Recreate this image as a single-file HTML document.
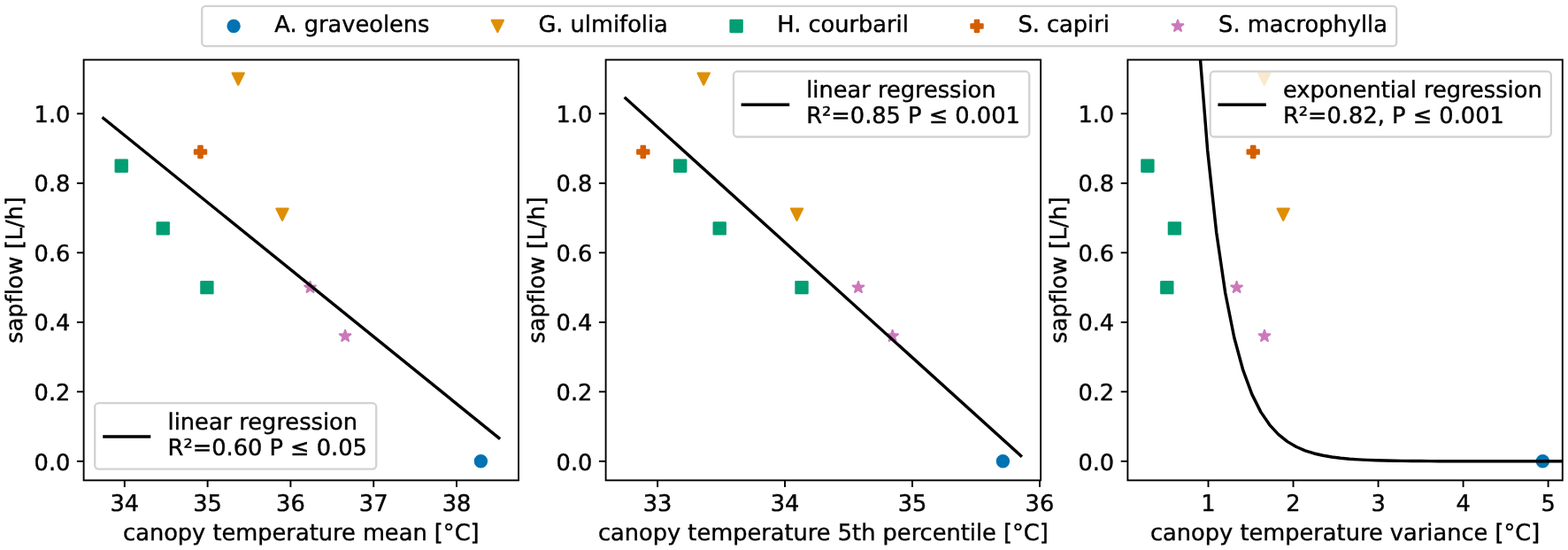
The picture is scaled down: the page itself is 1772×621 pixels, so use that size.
<!DOCTYPE html>
<html lang="en"><head><meta charset="utf-8"><title>sapflow vs canopy temperature</title>
<style>
html,body{margin:0;padding:0;background:#fff;}
body{width:1772px;height:621px;overflow:hidden;}
svg{display:block;}

</style></head><body>
<svg width="1772" height="621" viewBox="0 0 1772 621" font-family='"DejaVu Sans", "Liberation Sans", sans-serif' font-size="25.67" fill="#000">
<style>text{text-rendering:geometricPrecision;font-variant-ligatures:none;font-kerning:normal;font-feature-settings:"liga" 0,"clig" 0;stroke:#000;stroke-width:0.4px;stroke-linejoin:round;}</style>
<rect width="1772" height="621" fill="#fff"/>
<g>
<clipPath id="clip0"><rect x="94.6" y="67.5" width="491.4" height="474.85"/></clipPath>
<g clip-path="url(#clip0)">
<polygon points="130.60,180.60 143.80,180.60 143.80,193.80 130.60,193.80" fill="#029e73" stroke="#029e73" stroke-width="2.2" stroke-linejoin="round"/>
<polygon points="177.60,251.30 190.80,251.30 190.80,264.50 177.60,264.50" fill="#029e73" stroke="#029e73" stroke-width="2.2" stroke-linejoin="round"/>
<polygon points="227.30,318.00 240.50,318.00 240.50,331.20 227.30,331.20" fill="#029e73" stroke="#029e73" stroke-width="2.2" stroke-linejoin="round"/>
<polygon points="269.20,95.70 275.80,82.50 262.60,82.50" fill="#de8f05" stroke="#de8f05" stroke-width="2.2" stroke-linejoin="round"/>
<polygon points="319.00,248.80 325.60,235.60 312.40,235.60" fill="#de8f05" stroke="#de8f05" stroke-width="2.2" stroke-linejoin="round"/>
<polygon points="224.30,164.90 228.70,164.90 228.70,169.30 233.10,169.30 233.10,173.70 228.70,173.70 228.70,178.10 224.30,178.10 224.30,173.70 219.90,173.70 219.90,169.30 224.30,169.30" fill="#d55e00" stroke="#d55e00" stroke-width="2.2" stroke-linejoin="round"/>
<polygon points="350.50,318.00 349.02,322.56 344.22,322.56 348.10,325.38 346.62,329.94 350.50,327.12 354.38,329.94 352.90,325.38 356.78,322.56 351.98,322.56" fill="#cc78bc" stroke="#cc78bc" stroke-width="2.2" stroke-linejoin="round"/>
<polygon points="390.10,372.90 388.62,377.46 383.82,377.46 387.70,380.28 386.22,384.84 390.10,382.02 393.98,384.84 392.50,380.28 396.38,377.46 391.58,377.46" fill="#cc78bc" stroke="#cc78bc" stroke-width="2.2" stroke-linejoin="round"/>
<circle cx="543.40" cy="520.80" r="6.60" fill="#0173b2" stroke="#0173b2" stroke-width="2.2" stroke-linejoin="round"/>
<path d="M116.9,133.5 L563.8,494.5" fill="none" stroke="#000" stroke-width="3.45" stroke-linecap="square" stroke-linejoin="round"/>
</g>
<line x1="140.80" x2="140.80" y1="542.35" y2="550.0500000000001" stroke="#000" stroke-width="1.9"/>
<text transform="translate(140.80,577.00) scale(1,1.0)" text-anchor="middle">34</text>
<line x1="234.60" x2="234.60" y1="542.35" y2="550.0500000000001" stroke="#000" stroke-width="1.9"/>
<text transform="translate(234.60,577.00) scale(1,1.0)" text-anchor="middle">35</text>
<line x1="328.40" x2="328.40" y1="542.35" y2="550.0500000000001" stroke="#000" stroke-width="1.9"/>
<text transform="translate(328.40,577.00) scale(1,1.0)" text-anchor="middle">36</text>
<line x1="422.20" x2="422.20" y1="542.35" y2="550.0500000000001" stroke="#000" stroke-width="1.9"/>
<text transform="translate(422.20,577.00) scale(1,1.0)" text-anchor="middle">37</text>
<line x1="516.00" x2="516.00" y1="542.35" y2="550.0500000000001" stroke="#000" stroke-width="1.9"/>
<text transform="translate(516.00,577.00) scale(1,1.0)" text-anchor="middle">38</text>
<line x1="86.90" x2="94.6" y1="520.80" y2="520.80" stroke="#000" stroke-width="1.9"/>
<text transform="translate(79.40,531.00) scale(1,1.0)" text-anchor="end">0.0</text>
<line x1="86.90" x2="94.6" y1="442.31" y2="442.31" stroke="#000" stroke-width="1.9"/>
<text transform="translate(79.40,452.00) scale(1,1.0)" text-anchor="end">0.2</text>
<line x1="86.90" x2="94.6" y1="363.82" y2="363.82" stroke="#000" stroke-width="1.9"/>
<text transform="translate(79.40,373.00) scale(1,1.0)" text-anchor="end">0.4</text>
<line x1="86.90" x2="94.6" y1="285.33" y2="285.33" stroke="#000" stroke-width="1.9"/>
<text transform="translate(79.40,295.00) scale(1,1.0)" text-anchor="end">0.6</text>
<line x1="86.90" x2="94.6" y1="206.84" y2="206.84" stroke="#000" stroke-width="1.9"/>
<text transform="translate(79.40,216.00) scale(1,1.0)" text-anchor="end">0.8</text>
<line x1="86.90" x2="94.6" y1="128.35" y2="128.35" stroke="#000" stroke-width="1.9"/>
<text transform="translate(79.40,138.00) scale(1,1.0)" text-anchor="end">1.0</text>
<rect x="94.6" y="67.5" width="491.4" height="474.85" fill="none" stroke="#000" stroke-width="1.9"/>
<text transform="translate(340.30,610.00) scale(1,1.0)" text-anchor="middle">canopy temperature mean [°C]</text>
<text transform="translate(25.00,304.93) rotate(-90) scale(1,1.0)" text-anchor="middle">sapflow [L/h]</text>
<rect x="107.2" y="455.2" width="318.0" height="74.4" rx="4.3" fill="#fff" fill-opacity="0.8" stroke="#ccc" stroke-opacity="0.88" stroke-width="2.3"/>
<line x1="116.2" x2="170.3" y1="492.95" y2="492.95" stroke="#000" stroke-width="3.45"/>
<text transform="translate(189.60,485.00) scale(1,1.0)" font-size="25.67">linear regression</text>
<text transform="translate(189.60,514.00) scale(1,1.0)" font-size="25.67">R²=0.60 P ≤ 0.05</text>
</g>
<g>
<clipPath id="clip1"><rect x="684.6" y="67.5" width="491.4999999999999" height="474.85"/></clipPath>
<g clip-path="url(#clip1)">
<polygon points="762.10,180.60 775.30,180.60 775.30,193.80 762.10,193.80" fill="#029e73" stroke="#029e73" stroke-width="2.2" stroke-linejoin="round"/>
<polygon points="806.60,251.30 819.80,251.30 819.80,264.50 806.60,264.50" fill="#029e73" stroke="#029e73" stroke-width="2.2" stroke-linejoin="round"/>
<polygon points="899.40,318.00 912.60,318.00 912.60,331.20 899.40,331.20" fill="#029e73" stroke="#029e73" stroke-width="2.2" stroke-linejoin="round"/>
<polygon points="795.20,95.70 801.80,82.50 788.60,82.50" fill="#de8f05" stroke="#de8f05" stroke-width="2.2" stroke-linejoin="round"/>
<polygon points="900.50,248.80 907.10,235.60 893.90,235.60" fill="#de8f05" stroke="#de8f05" stroke-width="2.2" stroke-linejoin="round"/>
<polygon points="724.60,164.90 729.00,164.90 729.00,169.30 733.40,169.30 733.40,173.70 729.00,173.70 729.00,178.10 724.60,178.10 724.60,173.70 720.20,173.70 720.20,169.30 724.60,169.30" fill="#d55e00" stroke="#d55e00" stroke-width="2.2" stroke-linejoin="round"/>
<polygon points="970.00,318.00 968.52,322.56 963.72,322.56 967.60,325.38 966.12,329.94 970.00,327.12 973.88,329.94 972.40,325.38 976.28,322.56 971.48,322.56" fill="#cc78bc" stroke="#cc78bc" stroke-width="2.2" stroke-linejoin="round"/>
<polygon points="1008.60,372.90 1007.12,377.46 1002.32,377.46 1006.20,380.28 1004.72,384.84 1008.60,382.02 1012.48,384.84 1011.00,380.28 1014.88,377.46 1010.08,377.46" fill="#cc78bc" stroke="#cc78bc" stroke-width="2.2" stroke-linejoin="round"/>
<circle cx="1133.40" cy="520.80" r="6.60" fill="#0173b2" stroke="#0173b2" stroke-width="2.2" stroke-linejoin="round"/>
<path d="M707.0,111.0 L1153.6,514.5" fill="none" stroke="#000" stroke-width="3.45" stroke-linecap="square" stroke-linejoin="round"/>
</g>
<line x1="743.10" x2="743.10" y1="542.35" y2="550.0500000000001" stroke="#000" stroke-width="1.9"/>
<text transform="translate(743.10,577.00) scale(1,1.0)" text-anchor="middle">33</text>
<line x1="887.05" x2="887.05" y1="542.35" y2="550.0500000000001" stroke="#000" stroke-width="1.9"/>
<text transform="translate(887.05,577.00) scale(1,1.0)" text-anchor="middle">34</text>
<line x1="1031.00" x2="1031.00" y1="542.35" y2="550.0500000000001" stroke="#000" stroke-width="1.9"/>
<text transform="translate(1031.00,577.00) scale(1,1.0)" text-anchor="middle">35</text>
<line x1="1174.95" x2="1174.95" y1="542.35" y2="550.0500000000001" stroke="#000" stroke-width="1.9"/>
<text transform="translate(1174.95,577.00) scale(1,1.0)" text-anchor="middle">36</text>
<line x1="676.90" x2="684.6" y1="520.80" y2="520.80" stroke="#000" stroke-width="1.9"/>
<text transform="translate(669.40,531.00) scale(1,1.0)" text-anchor="end">0.0</text>
<line x1="676.90" x2="684.6" y1="442.31" y2="442.31" stroke="#000" stroke-width="1.9"/>
<text transform="translate(669.40,452.00) scale(1,1.0)" text-anchor="end">0.2</text>
<line x1="676.90" x2="684.6" y1="363.82" y2="363.82" stroke="#000" stroke-width="1.9"/>
<text transform="translate(669.40,373.00) scale(1,1.0)" text-anchor="end">0.4</text>
<line x1="676.90" x2="684.6" y1="285.33" y2="285.33" stroke="#000" stroke-width="1.9"/>
<text transform="translate(669.40,295.00) scale(1,1.0)" text-anchor="end">0.6</text>
<line x1="676.90" x2="684.6" y1="206.84" y2="206.84" stroke="#000" stroke-width="1.9"/>
<text transform="translate(669.40,216.00) scale(1,1.0)" text-anchor="end">0.8</text>
<line x1="676.90" x2="684.6" y1="128.35" y2="128.35" stroke="#000" stroke-width="1.9"/>
<text transform="translate(669.40,138.00) scale(1,1.0)" text-anchor="end">1.0</text>
<rect x="684.6" y="67.5" width="491.4999999999999" height="474.85" fill="none" stroke="#000" stroke-width="1.9"/>
<text transform="translate(930.35,610.00) scale(1,1.0)" text-anchor="middle">canopy temperature 5th percentile [°C]</text>
<text transform="translate(615.00,304.93) rotate(-90) scale(1,1.0)" text-anchor="middle">sapflow [L/h]</text>
<rect x="829.0" y="80.7" width="334.2" height="73.8" rx="4.3" fill="#fff" fill-opacity="0.8" stroke="#ccc" stroke-opacity="0.88" stroke-width="2.3"/>
<line x1="837.6" x2="892.2" y1="118.3" y2="118.3" stroke="#000" stroke-width="3.45"/>
<text transform="translate(911.20,110.00) scale(1,1.0)" font-size="25.67">linear regression</text>
<text transform="translate(911.20,139.00) scale(1,1.0)" font-size="25.67">R²=0.85 P ≤ 0.001</text>
</g>
<g>
<clipPath id="clip2"><rect x="1274.4" y="67.5" width="491.39999999999986" height="474.85"/></clipPath>
<g clip-path="url(#clip2)">
<polygon points="1290.30,180.60 1303.50,180.60 1303.50,193.80 1290.30,193.80" fill="#029e73" stroke="#029e73" stroke-width="2.2" stroke-linejoin="round"/>
<polygon points="1320.80,251.30 1334.00,251.30 1334.00,264.50 1320.80,264.50" fill="#029e73" stroke="#029e73" stroke-width="2.2" stroke-linejoin="round"/>
<polygon points="1312.20,318.00 1325.40,318.00 1325.40,331.20 1312.20,331.20" fill="#029e73" stroke="#029e73" stroke-width="2.2" stroke-linejoin="round"/>
<polygon points="1428.70,95.70 1435.30,82.50 1422.10,82.50" fill="#de8f05" stroke="#de8f05" stroke-width="2.2" stroke-linejoin="round"/>
<polygon points="1450.20,248.80 1456.80,235.60 1443.60,235.60" fill="#de8f05" stroke="#de8f05" stroke-width="2.2" stroke-linejoin="round"/>
<polygon points="1414.00,164.90 1418.40,164.90 1418.40,169.30 1422.80,169.30 1422.80,173.70 1418.40,173.70 1418.40,178.10 1414.00,178.10 1414.00,173.70 1409.60,173.70 1409.60,169.30 1414.00,169.30" fill="#d55e00" stroke="#d55e00" stroke-width="2.2" stroke-linejoin="round"/>
<polygon points="1397.60,318.00 1396.12,322.56 1391.32,322.56 1395.20,325.38 1393.72,329.94 1397.60,327.12 1401.48,329.94 1400.00,325.38 1403.88,322.56 1399.08,322.56" fill="#cc78bc" stroke="#cc78bc" stroke-width="2.2" stroke-linejoin="round"/>
<polygon points="1429.00,372.90 1427.52,377.46 1422.72,377.46 1426.60,380.28 1425.12,384.84 1429.00,382.02 1432.88,384.84 1431.40,380.28 1435.28,377.46 1430.48,377.46" fill="#cc78bc" stroke="#cc78bc" stroke-width="2.2" stroke-linejoin="round"/>
<circle cx="1743.40" cy="520.80" r="6.60" fill="#0173b2" stroke="#0173b2" stroke-width="2.2" stroke-linejoin="round"/>
<path d="M1334.57,-360.74 L1344.60,-127.78 L1354.63,43.62 L1364.66,169.72 L1374.69,262.50 L1384.71,330.76 L1394.74,380.98 L1404.77,417.93 L1414.80,445.11 L1424.83,465.11 L1434.86,479.83 L1444.89,490.66 L1454.91,498.62 L1464.94,504.48 L1474.97,508.80 L1485.00,511.97 L1495.03,514.30 L1505.06,516.02 L1515.09,517.28 L1525.11,518.21 L1535.14,518.90 L1545.17,519.40 L1555.20,519.77 L1565.23,520.04 L1575.26,520.24 L1585.29,520.39 L1595.31,520.50 L1605.34,520.58 L1615.37,520.64 L1625.40,520.68 L1635.43,520.71 L1645.46,520.73 L1655.49,520.75 L1665.51,520.76 L1675.54,520.77 L1685.57,520.78 L1695.60,520.79 L1705.63,520.79 L1715.66,520.79 L1725.69,520.79 L1735.71,520.80 L1745.74,520.80 L1755.77,520.80 L1765.80,520.80" fill="none" stroke="#000" stroke-width="3.45" stroke-linecap="square" stroke-linejoin="round"/>
</g>
<line x1="1365.50" x2="1365.50" y1="542.35" y2="550.0500000000001" stroke="#000" stroke-width="1.9"/>
<text transform="translate(1365.50,577.00) scale(1,1.0)" text-anchor="middle">1</text>
<line x1="1461.53" x2="1461.53" y1="542.35" y2="550.0500000000001" stroke="#000" stroke-width="1.9"/>
<text transform="translate(1461.53,577.00) scale(1,1.0)" text-anchor="middle">2</text>
<line x1="1557.56" x2="1557.56" y1="542.35" y2="550.0500000000001" stroke="#000" stroke-width="1.9"/>
<text transform="translate(1557.56,577.00) scale(1,1.0)" text-anchor="middle">3</text>
<line x1="1653.59" x2="1653.59" y1="542.35" y2="550.0500000000001" stroke="#000" stroke-width="1.9"/>
<text transform="translate(1653.59,577.00) scale(1,1.0)" text-anchor="middle">4</text>
<line x1="1749.62" x2="1749.62" y1="542.35" y2="550.0500000000001" stroke="#000" stroke-width="1.9"/>
<text transform="translate(1749.62,577.00) scale(1,1.0)" text-anchor="middle">5</text>
<line x1="1266.70" x2="1274.4" y1="520.80" y2="520.80" stroke="#000" stroke-width="1.9"/>
<text transform="translate(1259.20,531.00) scale(1,1.0)" text-anchor="end">0.0</text>
<line x1="1266.70" x2="1274.4" y1="442.31" y2="442.31" stroke="#000" stroke-width="1.9"/>
<text transform="translate(1259.20,452.00) scale(1,1.0)" text-anchor="end">0.2</text>
<line x1="1266.70" x2="1274.4" y1="363.82" y2="363.82" stroke="#000" stroke-width="1.9"/>
<text transform="translate(1259.20,373.00) scale(1,1.0)" text-anchor="end">0.4</text>
<line x1="1266.70" x2="1274.4" y1="285.33" y2="285.33" stroke="#000" stroke-width="1.9"/>
<text transform="translate(1259.20,295.00) scale(1,1.0)" text-anchor="end">0.6</text>
<line x1="1266.70" x2="1274.4" y1="206.84" y2="206.84" stroke="#000" stroke-width="1.9"/>
<text transform="translate(1259.20,216.00) scale(1,1.0)" text-anchor="end">0.8</text>
<line x1="1266.70" x2="1274.4" y1="128.35" y2="128.35" stroke="#000" stroke-width="1.9"/>
<text transform="translate(1259.20,138.00) scale(1,1.0)" text-anchor="end">1.0</text>
<rect x="1274.4" y="67.5" width="491.39999999999986" height="474.85" fill="none" stroke="#000" stroke-width="1.9"/>
<text transform="translate(1520.10,610.00) scale(1,1.0)" text-anchor="middle">canopy temperature variance [°C]</text>
<text transform="translate(1204.80,304.93) rotate(-90) scale(1,1.0)" text-anchor="middle">sapflow [L/h]</text>
<rect x="1367.7" y="80.7" width="385.2" height="73.8" rx="4.3" fill="#fff" fill-opacity="0.8" stroke="#ccc" stroke-opacity="0.88" stroke-width="2.3"/>
<line x1="1376.4" x2="1430.8" y1="118.3" y2="118.3" stroke="#000" stroke-width="3.45"/>
<text transform="translate(1450.00,110.00) scale(1,1.0)" font-size="25.67">exponential regression</text>
<text transform="translate(1450.00,139.00) scale(1,1.0)" font-size="25.67">R²=0.82, P ≤ 0.001</text>
</g>
<rect x="228.2" y="6.8" width="1350" height="45.4" rx="4.3" fill="#fff" stroke="#ccc" stroke-opacity="0.88" stroke-width="2.3"/>
<circle cx="264.10" cy="29.50" r="6.60" fill="#0173b2" stroke="#0173b2" stroke-width="2.2" stroke-linejoin="round"/>
<text transform="translate(310.30,36.00) scale(1,1.0)" font-size="25.67">A. graveolens</text>
<polygon points="562.30,36.10 568.90,22.90 555.70,22.90" fill="#de8f05" stroke="#de8f05" stroke-width="2.2" stroke-linejoin="round"/>
<text transform="translate(608.40,36.00) scale(1,1.0)" font-size="25.67">G. ulmifolia</text>
<polygon points="825.50,22.90 838.70,22.90 838.70,36.10 825.50,36.10" fill="#029e73" stroke="#029e73" stroke-width="2.2" stroke-linejoin="round"/>
<text transform="translate(878.30,36.00) scale(1,1.0)" font-size="25.67">H. courbaril</text>
<polygon points="1101.80,22.90 1106.20,22.90 1106.20,27.30 1110.60,27.30 1110.60,31.70 1106.20,31.70 1106.20,36.10 1101.80,36.10 1101.80,31.70 1097.40,31.70 1097.40,27.30 1101.80,27.30" fill="#d55e00" stroke="#d55e00" stroke-width="2.2" stroke-linejoin="round"/>
<text transform="translate(1150.40,36.00) scale(1,1.0)" font-size="25.67">S. capiri</text>
<polygon points="1331.00,22.90 1329.52,27.46 1324.72,27.46 1328.60,30.28 1327.12,34.84 1331.00,32.02 1334.88,34.84 1333.40,30.28 1337.28,27.46 1332.48,27.46" fill="#cc78bc" stroke="#cc78bc" stroke-width="2.2" stroke-linejoin="round"/>
<text transform="translate(1377.10,36.00) scale(1,1.0)" font-size="25.67">S. macrophylla</text>
</svg>
</body></html>
